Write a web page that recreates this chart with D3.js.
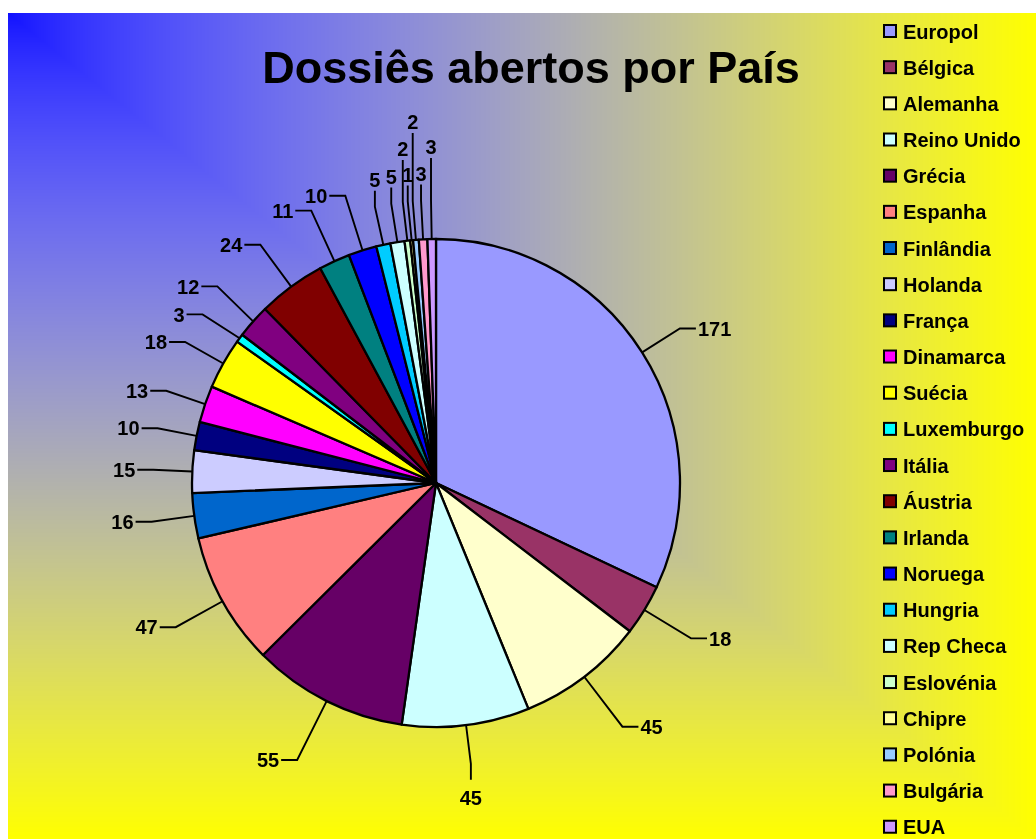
<!DOCTYPE html>
<html><head><meta charset="utf-8">
<script src="https://cdn.jsdelivr.net/npm/d3@7"></script>
<style>
body{margin:0;background:#fff;}
#wrap{position:relative;width:1036px;height:839px;overflow:hidden;}
canvas{position:absolute;left:8px;top:13px;}
svg{position:absolute;left:0;top:0;}
text{font-family:"Liberation Sans",Arial,Helvetica,sans-serif;font-weight:bold;fill:#000;}
</style></head><body>
<div id="wrap"><canvas id="bg" width="1028" height="826"></canvas><svg id="chart" width="1036" height="839"></svg></div>
<script>
const categories = ["Europol","Bélgica","Alemanha","Reino Unido","Grécia","Espanha","Finlândia","Holanda","França","Dinamarca","Suécia","Luxemburgo","Itália","Áustria","Irlanda","Noruega","Hungria","Rep Checa","Eslovénia","Chipre","Polónia","Bulgária","EUA"];
const values = [171,18,45,45,55,47,16,15,10,13,18,3,12,24,11,10,5,5,2,1,2,3,3];
const colors = ["#9999FF","#993366","#FFFFCC","#CCFFFF","#660066","#FF8080","#0066CC","#CCCCFF","#000080","#FF00FF","#FFFF00","#00FFFF","#800080","#800000","#008080","#0000FF","#00CCFF","#CCFFFF","#CCFFCC","#FFFF99","#99CCFF","#FF99CC","#CC99FF"];
const titleText = "Dossiês abertos por País";

// background gradient (from top-left corner, blue to yellow)
(function(){
  const cv = document.getElementById("bg");
  const ctx = cv.getContext("2d");
  const W = cv.width, H = cv.height;
  const img = ctx.createImageData(W, H);
  for (let y = 0; y < H; y++) {
    for (let x = 0; x < W; x++) {
      const t = Math.max(x / W, y / H);
      const rg = 255 * Math.pow(t, 0.7) + 14 * (1 - t);
      const b = 255 * (1 - t * t);
      const i = (y * W + x) * 4;
      img.data[i] = rg; img.data[i+1] = rg; img.data[i+2] = b; img.data[i+3] = 255;
    }
  }
  ctx.putImageData(img, 0, 0);
})();

const data = categories.map((c, i) => ({name: c, value: values[i], color: colors[i]}));
const svg = d3.select("#chart");

// title
svg.append("text").attr("x", 531).attr("y", 83).attr("text-anchor", "middle")
  .style("font-size", "45px").text(titleText);

// pie
const cx = 436, cy = 483, R = 244;
const g = svg.append("g").attr("transform", `translate(${cx},${cy})`);
const pie = d3.pie().sort(null).value(d => d.value);
const arc = d3.arc().innerRadius(0).outerRadius(R);
const arcs = pie(data);
g.selectAll("path.slice").data(arcs).join("path").attr("class", "slice")
  .attr("d", arc).attr("fill", d => d.data.color)
  .attr("stroke", "#000").attr("stroke-width", 2.3).attr("stroke-linejoin", "round");

// labels with leader lines
const capH = 14, hSeg = 16, gap = 2, minSep = 28;
const lg = g.append("g");
const placedTop = [];
const labs = arcs.map(d => {
  const a = (d.startAngle + d.endAngle) / 2;
  const s = Math.sin(a), c = -Math.cos(a);
  const P = [R * s, R * c];
  const t = lg.append("text").attr("text-anchor", "middle").attr("dy", "0.36em")
    .style("font-size", "20px").text(d.data.value);
  const w = t.node().getComputedTextLength();
  const L = {t, w, P, s, c};
  if (Math.abs(s) < 0.3) {
    L.kind = "v";
    const E = [283 * s, 283 * c];
    L.E = E;
    if (c < 0) {
      const baseY = E[1] - hSeg - 4 - capH / 2;
      let lvl = 0;
      while (placedTop.some(p => p.lvl === lvl && Math.abs(p.x - E[0]) < (p.w + w) / 2 + 2)) lvl++;
      placedTop.push({x: E[0], w: w, lvl: lvl});
      L.C = [E[0], baseY - lvl * 26];
      L.pts = () => [P, E, [E[0], L.C[1] + capH / 2 + 4]];
    } else {
      L.C = [E[0], E[1] + hSeg + 11 + capH / 2];
      L.pts = () => [P, E, [E[0], E[1] + hSeg]];
    }
  } else {
    L.kind = "h";
    const re = 283 + 30 * Math.max(0, c) + 20 * (c < 0 ? c * c : 0);
    const E = [re * s, re * c];
    const side = s > 0 ? 1 : -1;
    L.side = side;
    L.E = E;
    L.endX = E[0] + side * hSeg;
    L.C = [L.endX + side * (gap + w / 2), E[1]];
    L.pts = () => [P, [E[0], L.C[1]], [L.endX, L.C[1]]];
  }
  return L;
});

// relax overlapping horizontal labels vertically
const hl = labs.filter(l => l.kind === "h");
for (let it = 0; it < 300; it++) {
  let moved = false;
  for (let i = 0; i < hl.length; i++) for (let j = i + 1; j < hl.length; j++) {
    const A = hl[i], B = hl[j];
    if (A.side !== B.side) continue;
    if (Math.abs(A.C[0] - B.C[0]) >= (A.w + B.w) / 2 + 4) continue;
    const dy = B.C[1] - A.C[1];
    if (Math.abs(dy) < minSep) {
      const push = (minSep - Math.abs(dy)) / 2 * 0.5;
      const sg = dy >= 0 ? 1 : -1;
      A.C[1] -= sg * push; B.C[1] += sg * push;
      moved = true;
    }
  }
  if (!moved) break;
}

labs.forEach(L => {
  L.t.attr("x", L.C[0]).attr("y", L.C[1]);
  lg.append("path").attr("d", d3.line()(L.pts())).attr("fill", "none")
    .attr("stroke", "#000").attr("stroke-width", 1.9);
});

// legend
const legY0 = 31.5, legStep = 36.17;
const leg = svg.append("g");
data.forEach((d, i) => {
  const y = legY0 + i * legStep;
  leg.append("rect").attr("x", 884).attr("y", y - 6.5).attr("width", 12).attr("height", 12)
    .attr("fill", d.color).attr("stroke", "#000").attr("stroke-width", 2);
  leg.append("text").attr("x", 903).attr("y", y + 7).style("font-size", "20px").text(d.name);
});
</script>
</body></html>
